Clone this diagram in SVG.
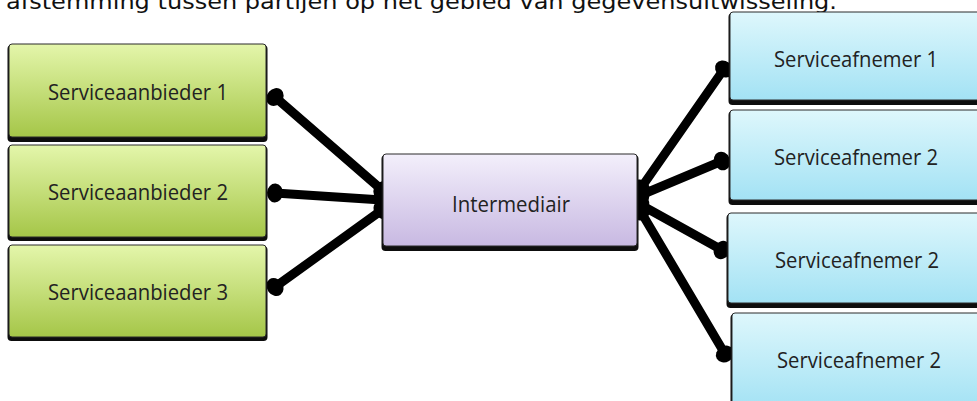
<svg xmlns="http://www.w3.org/2000/svg" width="977" height="401" viewBox="0 0 977 401">
<defs>
<linearGradient id="gGreen" x1="0" y1="0" x2="0" y2="1">
<stop offset="0" stop-color="#e4f6ab"/>
<stop offset="1" stop-color="#a5c648"/>
</linearGradient>
<linearGradient id="gPurple" x1="0" y1="0" x2="0" y2="1">
<stop offset="0" stop-color="#f3effb"/>
<stop offset="1" stop-color="#c8b9e2"/>
</linearGradient>
<linearGradient id="gBlue" x1="0" y1="0" x2="0" y2="1">
<stop offset="0" stop-color="#def7fc"/>
<stop offset="1" stop-color="#a3e2f4"/>
</linearGradient>
<marker id="blob" viewBox="-10 -10 20 20" markerWidth="20" markerHeight="20" markerUnits="userSpaceOnUse" orient="auto">
<ellipse cx="0" cy="0" rx="8" ry="9.5" fill="#000"/>
</marker>
</defs>
<style>
.cap{font-family:"DejaVu Sans",Verdana,sans-serif;font-size:22px;fill:#111}
.shadow{fill:#0d0d0d}
.box{stroke:#2a2a2a;stroke-width:1}
.green{fill:url(#gGreen)}
.purple{fill:url(#gPurple)}
.blue{fill:url(#gBlue)}
.lbl{font-family:"Open Sans","Liberation Sans",Arial,sans-serif;font-size:21px;fill:#222;text-anchor:middle}
.conn{stroke:#000;stroke-width:9;fill:none;stroke-linecap:round;marker-start:url(#blob);marker-end:url(#blob)}
</style>

<text class="cap" x="6" y="9" textLength="831" lengthAdjust="spacingAndGlyphs">afstemming tussen partijen op het gebied van gegevensuitwisseling.</text>

<g id="connectors">
<line class="conn" x1="382" y1="190" x2="275" y2="97"/>
<line class="conn" x1="382" y1="200" x2="275" y2="193"/>
<line class="conn" x1="382" y1="210" x2="275" y2="287"/>
<line class="conn" x1="641" y1="188" x2="724" y2="69"/>
<line class="conn" x1="641" y1="195" x2="722" y2="161"/>
<line class="conn" x1="641" y1="205" x2="722" y2="250"/>
<line class="conn" x1="641" y1="212" x2="725" y2="354"/>
</g>

<g id="aanbieder1">
<rect class="shadow" x="7.5" y="45" width="260" height="97" rx="4"/>
<rect class="box green" x="9" y="44" width="257" height="93" rx="3"/>
<text class="lbl" x="138" y="100" textLength="180" lengthAdjust="spacingAndGlyphs">Serviceaanbieder 1</text>
</g>
<g id="aanbieder2">
<rect class="shadow" x="7.5" y="146" width="260" height="95" rx="4"/>
<rect class="box green" x="9" y="145" width="257" height="92" rx="3"/>
<text class="lbl" x="138" y="200" textLength="180" lengthAdjust="spacingAndGlyphs">Serviceaanbieder 2</text>
</g>
<g id="aanbieder3">
<rect class="shadow" x="7.5" y="246" width="260" height="95" rx="4"/>
<rect class="box green" x="9" y="245" width="257" height="92" rx="3"/>
<text class="lbl" x="138" y="300" textLength="180" lengthAdjust="spacingAndGlyphs">Serviceaanbieder 3</text>
</g>

<g id="intermediair">
<rect class="shadow" x="381.5" y="155" width="257" height="96" rx="4"/>
<rect class="box purple" x="383" y="154" width="254" height="92" rx="3"/>
<text class="lbl" x="511" y="212" textLength="118" lengthAdjust="spacingAndGlyphs">Intermediair</text>
</g>

<g id="afnemer1">
<rect class="shadow" x="728.5" y="13" width="270" height="92" rx="4"/>
<rect class="box blue" x="730" y="12" width="267" height="88" rx="3"/>
<text class="lbl" x="856" y="67" textLength="164" lengthAdjust="spacingAndGlyphs">Serviceafnemer 1</text>
</g>
<g id="afnemer2">
<rect class="shadow" x="728.5" y="111" width="270" height="94" rx="4"/>
<rect class="box blue" x="730" y="110" width="267" height="90" rx="3"/>
<text class="lbl" x="856" y="165" textLength="164" lengthAdjust="spacingAndGlyphs">Serviceafnemer 2</text>
</g>
<g id="afnemer3">
<rect class="shadow" x="726.5" y="214" width="272" height="94" rx="4"/>
<rect class="box blue" x="728" y="213" width="269" height="90" rx="3"/>
<text class="lbl" x="857" y="268" textLength="164" lengthAdjust="spacingAndGlyphs">Serviceafnemer 2</text>
</g>
<g id="afnemer4">
<rect class="shadow" x="730.5" y="314" width="268" height="100" rx="4"/>
<rect class="box blue" x="732" y="313" width="265" height="96" rx="3"/>
<text class="lbl" x="859" y="368" textLength="164" lengthAdjust="spacingAndGlyphs">Serviceafnemer 2</text>
</g>
</svg>
